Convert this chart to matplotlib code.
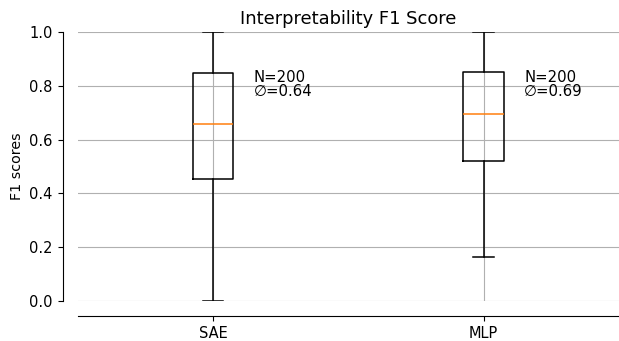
import matplotlib
matplotlib.use("Agg")
import matplotlib.pyplot as plt

categories = ["SAE", "MLP"]
whislo = [0.0, 0.164]
q1 = [0.454, 0.522]
median = [0.659, 0.695]
q3 = [0.846, 0.852]
whishi = [1.0, 1.0]
means = [0.64, 0.69]
counts = [200, 200]
yticks = [0.0, 0.2, 0.4, 0.6, 0.8, 1.0]

stats = []
for i, name in enumerate(categories):
    stats.append(dict(label=name, whislo=whislo[i], q1=q1[i], med=median[i],
                      q3=q3[i], whishi=whishi[i], mean=means[i], fliers=[]))

fig = plt.figure(figsize=(6.19, 3.41), dpi=100)
ax = fig.add_axes([77.5 / 619, 40 / 341, 541.5 / 619, 269 / 341])
positions = list(range(1, len(categories) + 1))
ax.bxp(stats, positions=positions, widths=0.15, showfliers=False,
       boxprops=dict(linewidth=1.1), whiskerprops=dict(linewidth=1.1),
       capprops=dict(linewidth=1.1), medianprops=dict(linewidth=1.1, color="#ff7f0e"))
ax.set_xlim(0.5, 2.5)
ax.set_ylim(0.0, 1.0)
ax.set_yticks(yticks)
ax.tick_params(labelsize=10.5)
ax.grid(True, color="#b0b0b0", linewidth=0.8)
ax.set_axisbelow(True)
ax.spines["top"].set_visible(False)
ax.spines["right"].set_visible(False)
ax.spines["left"].set_position(("outward", 10.8))
ax.spines["bottom"].set_position(("outward", 10.8))
ax.set_ylabel("F1 scores", fontsize=10.3)
ax.set_title("Interpretability F1 Score", fontsize=12.9)

for i, p in enumerate(positions):
    ax.text(p + 0.15, 0.86, f"N={counts[i]}\n\u2205={means[i]:.2f}",
            va="top", ha="left", fontsize=10.7, linespacing=0.95)

fig.savefig("out.png", dpi=100)
